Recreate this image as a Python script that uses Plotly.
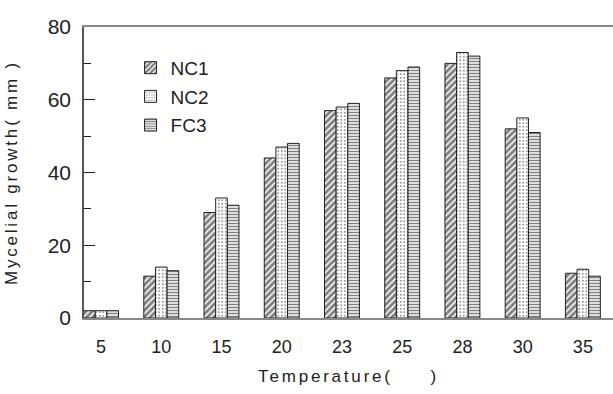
import plotly.graph_objects as go

temperatures = ["5", "10", "15", "20", "23", "25", "28", "30", "35"]
nc1 = [2, 11.5, 29, 44, 57, 66, 70, 52, 12.3]
nc2 = [2, 14, 33, 47, 58, 68, 73, 55, 13.4]
fc3 = [2, 13, 31, 48, 59, 69, 72, 51, 11.5]
series_names = ["NC1", "NC2", "FC3"]

FONT = "Liberation Sans, Arial, sans-serif"
patterns = [
    dict(shape="/", fgcolor="#000", bgcolor="white", size=4.5, solidity=0.65),
    dict(shape=".", fgcolor="#000", bgcolor="white", size=3.5, solidity=0.22),
    dict(shape="-", fgcolor="#000", bgcolor="white", size=3, solidity=0.5),
]

fig = go.Figure()
for name, vals, pat in zip(series_names, [nc1, nc2, fc3], patterns):
    fig.add_trace(go.Bar(
        x=temperatures, y=vals, name=name, legendgroup=name,
        marker=dict(color="white", pattern=pat,
                    line=dict(color="#222", width=1)),
    ))

fig.update_layout(
    width=613, height=394,
    margin=dict(l=84, r=0, t=27, b=76),
    paper_bgcolor="white", plot_bgcolor="white",
    font=dict(family=FONT, size=17, color="#222"),
    barmode="group", bargap=0.42, bargroupgap=0,
    showlegend=True,
    legend=dict(x=0.088, y=0.925, xanchor="left", yanchor="top",
                bgcolor="rgba(0,0,0,0)", font=dict(size=19),
                traceorder="grouped", tracegroupgap=1),
    xaxis=dict(
        type="category", range=[-0.283, 8.5],
        showline=True, linecolor="#888", linewidth=1.5, mirror=True,
        ticks="", showgrid=False,
        tickfont=dict(size=18), ticklabelstandoff=12,
        title=dict(text="Temperature(     )", font=dict(size=17), standoff=14),
    ),
    yaxis=dict(
        range=[0, 80],
        showline=True, linecolor="#555", linewidth=1.5,
        ticks="inside", ticklen=11, tickcolor="#222", tickwidth=1,
        tick0=0, dtick=20,
        minor=dict(dtick=10, ticks="inside", ticklen=7, tickcolor="#222", tickwidth=1),
        showgrid=False, zeroline=False,
        tickfont=dict(size=21), ticklabelstandoff=7,
        title=dict(text="Mycelial growth( mm )", font=dict(size=17), standoff=26),
    ),
)

post = (
    "document.body.style.margin='0';"
    "var s=document.createElement('style');"
    "s.innerHTML='.xtitle,.ytitle{letter-spacing:2.8px}';"
    "document.head.appendChild(s);"
)
fig.write_html("out.html", post_script=post, config={"displayModeBar": False})
